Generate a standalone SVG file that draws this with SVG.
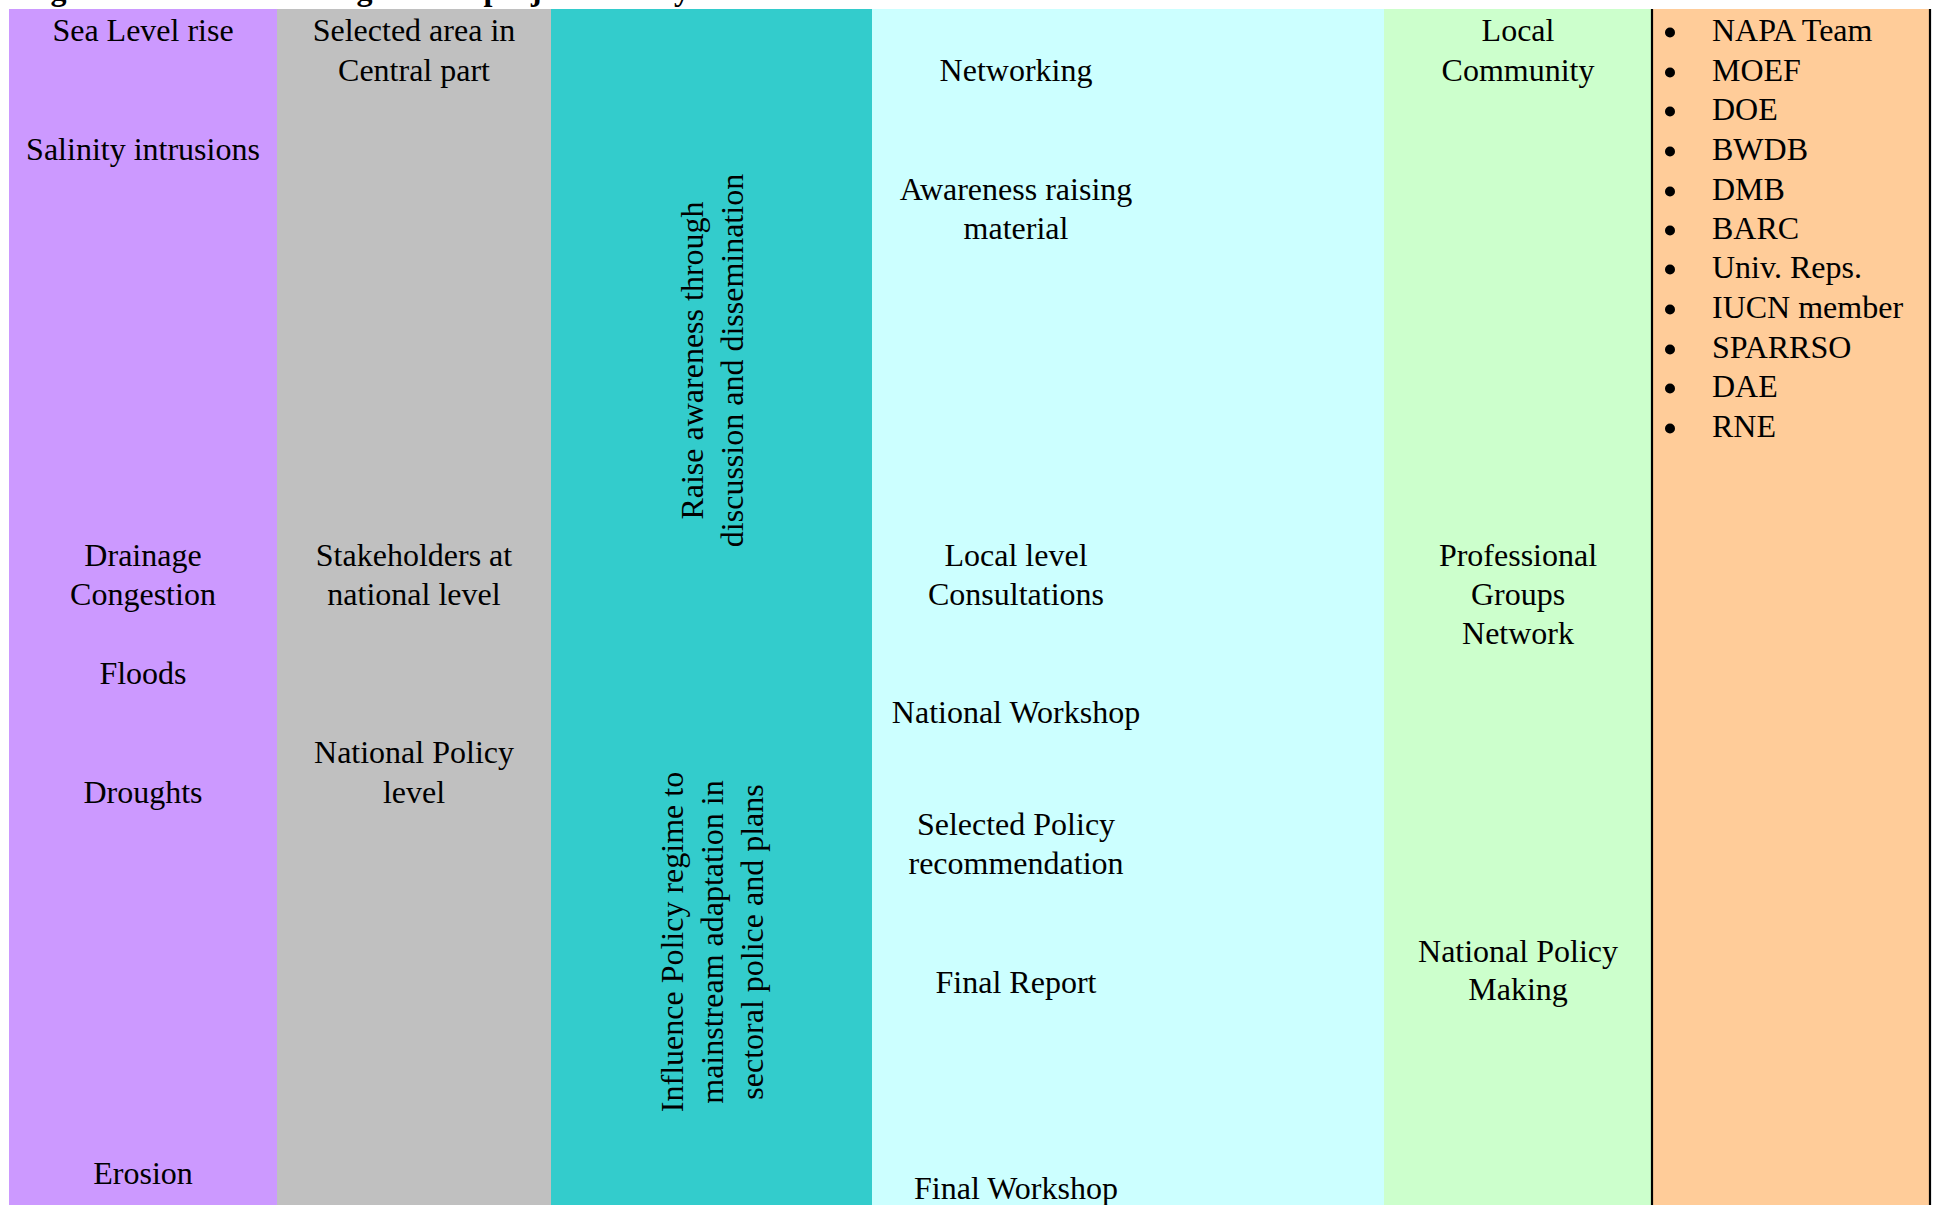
<svg xmlns="http://www.w3.org/2000/svg" width="1936" height="1205" viewBox="0 0 1936 1205">
<style>
text{font-family:"Liberation Serif","Times New Roman",serif;font-size:32px;fill:#000}
.c{text-anchor:middle}
.title{font-weight:bold;font-size:32px}
.sep{stroke:#000;stroke-width:2.2}
.dot{fill:#000}
</style>
<rect width="1936" height="1205" fill="#fff"/>
<text class="title" x="22" y="0">Figure 2: Schematic design of the project activity</text>

<g id="col-hazards">
<rect x="9" y="9" width="268" height="1196" fill="#CC99FF"/>
<g id="n-sea"><text class="c" x="143" y="41">Sea Level rise</text></g>
<g id="n-salinity"><text class="c" x="143" y="160">Salinity intrusions</text></g>
<g id="n-drainage"><text class="c" x="143" y="566">Drainage</text><text class="c" x="143" y="605">Congestion</text></g>
<g id="n-floods"><text class="c" x="143" y="684">Floods</text></g>
<g id="n-droughts"><text class="c" x="143" y="803">Droughts</text></g>
<g id="n-erosion"><text class="c" x="143" y="1184">Erosion</text></g>
</g>

<g id="col-area">
<rect x="277" y="9" width="274" height="1196" fill="#C0C0C0"/>
<g id="n-selected"><text class="c" x="414" y="41">Selected area in</text><text class="c" x="414" y="81">Central part</text></g>
<g id="n-stake"><text class="c" x="414" y="566">Stakeholders at</text><text class="c" x="414" y="605">national level</text></g>
<g id="n-natpol"><text class="c" x="414" y="763">National Policy</text><text class="c" x="414" y="803">level</text></g>
</g>

<g id="col-objectives">
<rect x="551" y="9" width="321" height="1196" fill="#33CCCC"/>
<g id="n-raise" transform="translate(703,360.5) rotate(-90)">
<text class="c" x="0" y="0">Raise awareness through</text>
<text class="c" x="0" y="40">discussion and dissemination</text>
</g>
<g id="n-influence" transform="translate(683,942) rotate(-90)">
<text class="c" x="0" y="0">Influence Policy regime to</text>
<text class="c" x="0" y="40">mainstream adaptation in</text>
<text class="c" x="0" y="80">sectoral police and plans</text>
</g>
</g>

<g id="col-activities">
<rect x="872" y="9" width="512" height="1196" fill="#CCFFFF"/>
<g id="n-networking"><text class="c" x="1016" y="81">Networking</text></g>
<g id="n-awareness"><text class="c" x="1016" y="200">Awareness raising</text><text class="c" x="1016" y="239">material</text></g>
<g id="n-local"><text class="c" x="1016" y="566">Local level</text><text class="c" x="1016" y="605">Consultations</text></g>
<g id="n-natws"><text class="c" x="1016" y="723">National Workshop</text></g>
<g id="n-selpol"><text class="c" x="1016" y="835">Selected Policy</text><text class="c" x="1016" y="874">recommendation</text></g>
<g id="n-final"><text class="c" x="1016" y="993">Final Report</text></g>
<g id="n-finalws"><text class="c" x="1016" y="1199">Final Workshop</text></g>
</g>

<g id="col-targets">
<rect x="1384" y="9" width="268" height="1196" fill="#CCFFCC"/>
<g id="n-community"><text class="c" x="1518" y="41">Local</text><text class="c" x="1518" y="81">Community</text></g>
<g id="n-prof"><text class="c" x="1518" y="566">Professional</text><text class="c" x="1518" y="605">Groups</text><text class="c" x="1518" y="644">Network</text></g>
<g id="n-npm"><text class="c" x="1518" y="962">National Policy</text><text class="c" x="1518" y="1000">Making</text></g>
</g>

<g id="col-partners">
<rect x="1652" y="9" width="278" height="1196" fill="#FFCC99"/>
<line class="sep" x1="1652" y1="9" x2="1652" y2="1205"/>
<line class="sep" x1="1930" y1="9" x2="1930" y2="1205"/>
<g id="n-list">
<circle class="dot" cx="1670" cy="32.5" r="5"/><text x="1712" y="41">NAPA Team</text>
<circle class="dot" cx="1670" cy="72.5" r="5"/><text x="1712" y="81">MOEF</text>
<circle class="dot" cx="1670" cy="111.5" r="5"/><text x="1712" y="120">DOE</text>
<circle class="dot" cx="1670" cy="151.5" r="5"/><text x="1712" y="160">BWDB</text>
<circle class="dot" cx="1670" cy="191.5" r="5"/><text x="1712" y="200">DMB</text>
<circle class="dot" cx="1670" cy="230.5" r="5"/><text x="1712" y="239">BARC</text>
<circle class="dot" cx="1670" cy="269.5" r="5"/><text x="1712" y="278">Univ. Reps.</text>
<circle class="dot" cx="1670" cy="309.5" r="5"/><text x="1712" y="318">IUCN member</text>
<circle class="dot" cx="1670" cy="349.5" r="5"/><text x="1712" y="358">SPARRSO</text>
<circle class="dot" cx="1670" cy="388.5" r="5"/><text x="1712" y="397">DAE</text>
<circle class="dot" cx="1670" cy="428.5" r="5"/><text x="1712" y="437">RNE</text>
</g>
</g>
</svg>
